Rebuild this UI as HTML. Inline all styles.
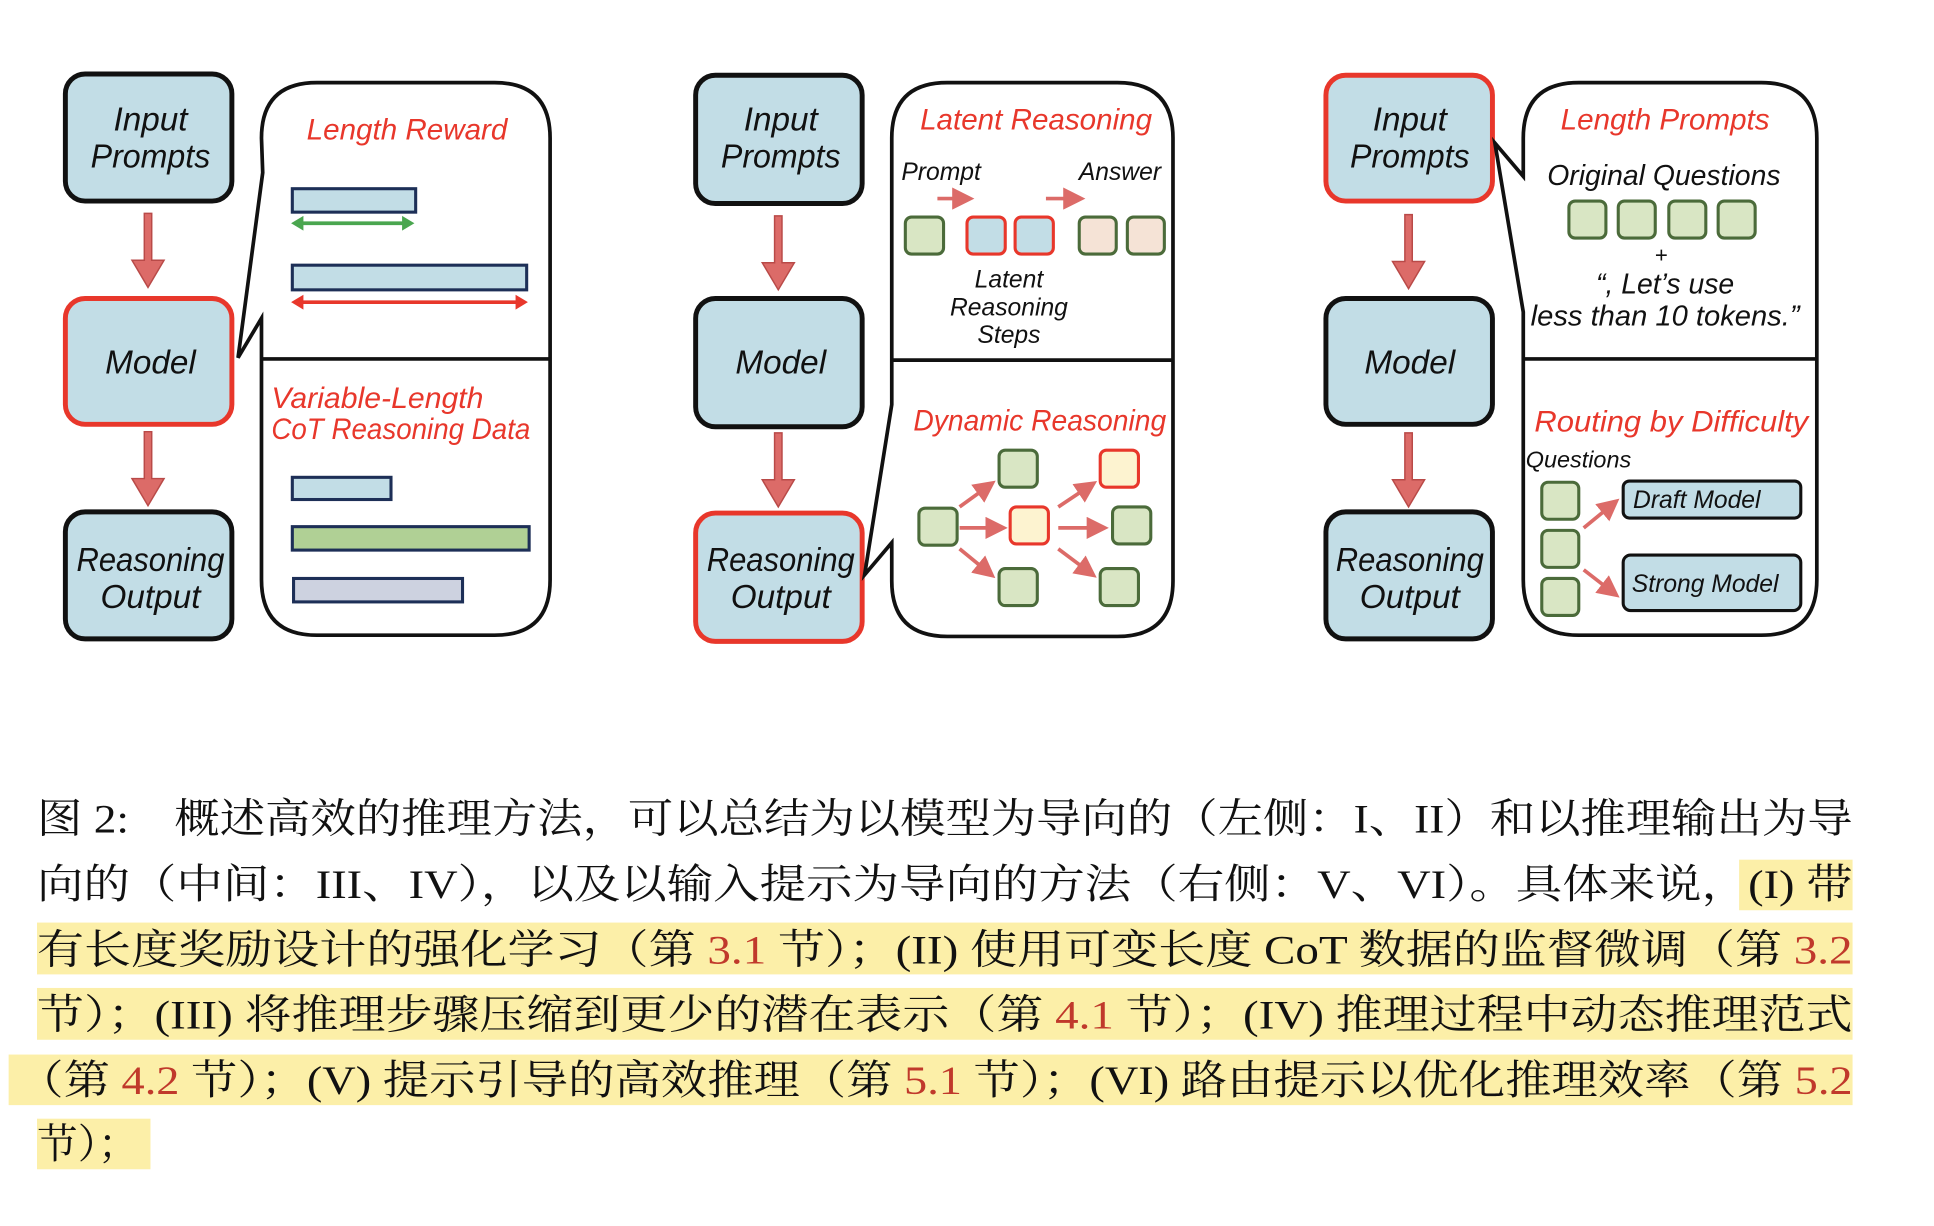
<!DOCTYPE html>
<html><head><meta charset="utf-8"><style>
html,body{margin:0;padding:0;background:#fff;}
svg{display:block;}
.d{font-family:"Liberation Sans",sans-serif;font-style:italic;}
.c{font-family:"Liberation Serif","Noto Serif CJK SC",serif;font-size:33px;fill:#111;}
</style></head><body>
<svg width="1934" height="1226" viewBox="0 0 1568 994" preserveAspectRatio="none" xmlns="http://www.w3.org/2000/svg">
<defs>
<g id="dar"><path d="M-3,0 L3,0 L3,38 L13,38 L0,60 L-13,38 L-3,38 Z" fill="#dc6b68" stroke="#b94a48" stroke-width="1.2"/></g>
<marker id="ah" markerWidth="6" markerHeight="6" refX="3" refY="3" orient="auto"><path d="M0,0 L6,3 L0,6 Z" fill="#dc6b68"/></marker>
</defs>
<g class="d" font-size="27" text-anchor="middle">
<g stroke-width="4">
<rect x="53" y="60" width="135" height="103" rx="16" fill="#c2dde6" stroke="#111"/>
<rect x="53" y="242" width="135" height="102" rx="16" fill="#c2dde6" stroke="#e8372b"/>
<rect x="53" y="415" width="135" height="103" rx="16" fill="#c2dde6" stroke="#111"/>
<rect x="564" y="61" width="135" height="104" rx="16" fill="#c2dde6" stroke="#111"/>
<rect x="564" y="242" width="135" height="104" rx="16" fill="#c2dde6" stroke="#111"/>
<rect x="564" y="416" width="135" height="104" rx="16" fill="#c2dde6" stroke="#e8372b"/>
<rect x="1075" y="61" width="135" height="102" rx="16" fill="#c2dde6" stroke="#e8372b"/>
<rect x="1075" y="242" width="135" height="102" rx="16" fill="#c2dde6" stroke="#111"/>
<rect x="1075" y="415" width="135" height="103" rx="16" fill="#c2dde6" stroke="#111"/>
</g>
<g fill="#111">
<text x="122" y="106">Input</text><text x="122" y="136" textLength="97" lengthAdjust="spacingAndGlyphs">Prompts</text>
<text x="122" y="303">Model</text>
<text x="122" y="463" textLength="120" lengthAdjust="spacingAndGlyphs">Reasoning</text><text x="122" y="493">Output</text>
<text x="633" y="106">Input</text><text x="633" y="136" textLength="97" lengthAdjust="spacingAndGlyphs">Prompts</text>
<text x="633" y="303">Model</text>
<text x="633" y="463" textLength="120" lengthAdjust="spacingAndGlyphs">Reasoning</text><text x="633" y="493">Output</text>
<text x="1143" y="106">Input</text><text x="1143" y="136" textLength="97" lengthAdjust="spacingAndGlyphs">Prompts</text>
<text x="1143" y="303">Model</text>
<text x="1143" y="463" textLength="120" lengthAdjust="spacingAndGlyphs">Reasoning</text><text x="1143" y="493">Output</text>
</g>
<use href="#dar" x="120" y="173"/><use href="#dar" x="120" y="350"/>
<use href="#dar" x="631" y="175"/><use href="#dar" x="631" y="351"/>
<use href="#dar" x="1142" y="174"/><use href="#dar" x="1142" y="351"/>

<g fill="#fff" stroke="#111" stroke-width="3">
<path d="M257,67 L401,67 Q446,67 446,112 L446,470 Q446,515 401,515 L257,515 Q212,515 212,470 L212,258 L193,290 L213,140 L212,112 Q212,67 257,67 Z"/>
<line x1="212" y1="291" x2="446" y2="291"/>
<path d="M768,67 L906,67 Q951,67 951,112 L951,471 Q951,516 906,516 L768,516 Q723,516 723,471 L723,440 L701,466 L723,328 L723,112 Q723,67 768,67 Z"/>
<line x1="723" y1="292" x2="951" y2="292"/>
<path d="M1280,67 L1428,67 Q1473,67 1473,112 L1473,470 Q1473,515 1428,515 L1280,515 Q1235,515 1235,470 L1235,253 L1212,116 L1235,143 L1235,112 Q1235,67 1280,67 Z"/>
<line x1="1235" y1="291" x2="1473" y2="291"/>
</g>

<text x="330" y="113" fill="#e8372b" font-size="24">Length Reward</text>
<g stroke="#1d2f57" stroke-width="2.5">
<rect x="237" y="153" width="100" height="19" fill="#c2dde6"/>
<rect x="237" y="215" width="190" height="20" fill="#c2dde6"/>
<rect x="237" y="387" width="80" height="18" fill="#c2dde6"/>
<rect x="237" y="427" width="192" height="19" fill="#b0d095"/>
<rect x="238" y="469" width="137" height="19" fill="#cdd2e0"/>
</g>
<g stroke-width="3">
<line x1="244" y1="181" x2="328" y2="181" stroke="#4aa64f"/>
<path d="M236,181 L246,175 L246,187Z M336,181 L326,175 L326,187Z" fill="#4aa64f"/>
<line x1="244" y1="245" x2="420" y2="245" stroke="#e8372b"/>
<path d="M236,245 L246,239 L246,251Z M428,245 L418,239 L418,251Z" fill="#e8372b"/>
</g>
<g fill="#e8372b" font-size="24" text-anchor="start">
<text x="220" y="331" textLength="172" lengthAdjust="spacingAndGlyphs">Variable-Length</text>
<text x="220" y="356" textLength="210" lengthAdjust="spacingAndGlyphs">CoT Reasoning Data</text>
</g>

<text x="840" y="105" fill="#e8372b" font-size="24">Latent Reasoning</text>
<g font-size="20" fill="#111">
<text x="763" y="146">Prompt</text><text x="908" y="146">Answer</text>
<text x="818" y="233">Latent</text><text x="818" y="256">Reasoning</text><text x="818" y="278">Steps</text>
</g>
<g stroke="#dc6b68" stroke-width="3" marker-end="url(#ah)">
<line x1="760" y1="161" x2="781" y2="161"/><line x1="848" y1="161" x2="871" y2="161"/>
</g>
<g stroke-width="2.5">
<rect x="734" y="176" width="31" height="30" rx="5" fill="#d9e6c4" stroke="#4b6b3a"/>
<rect x="784" y="176" width="31" height="30" rx="5" fill="#c2dde6" stroke="#e8372b"/>
<rect x="823" y="176" width="31" height="30" rx="5" fill="#c2dde6" stroke="#e8372b"/>
<rect x="875" y="176" width="30" height="30" rx="5" fill="#f5e3d6" stroke="#4b6b3a"/>
<rect x="914" y="176" width="30" height="30" rx="5" fill="#f5e3d6" stroke="#4b6b3a"/>
</g>
<text x="843" y="349" fill="#e8372b" font-size="24" textLength="205" lengthAdjust="spacingAndGlyphs">Dynamic Reasoning</text>
<g stroke-width="2.5">
<rect x="745" y="412" width="31" height="30" rx="5" fill="#d9e6c4" stroke="#4b6b3a"/>
<rect x="810" y="365" width="31" height="30" rx="5" fill="#d9e6c4" stroke="#4b6b3a"/>
<rect x="819" y="411" width="31" height="30" rx="5" fill="#fdf3d0" stroke="#e8372b"/>
<rect x="810" y="461" width="31" height="30" rx="5" fill="#d9e6c4" stroke="#4b6b3a"/>
<rect x="892" y="365" width="31" height="30" rx="5" fill="#fdf3d0" stroke="#e8372b"/>
<rect x="902" y="411" width="31" height="30" rx="5" fill="#d9e6c4" stroke="#4b6b3a"/>
<rect x="892" y="461" width="31" height="30" rx="5" fill="#d9e6c4" stroke="#4b6b3a"/>
</g>
<g stroke="#dc6b68" stroke-width="3" marker-end="url(#ah)">
<line x1="778" y1="411" x2="800" y2="395"/><line x1="778" y1="428" x2="808" y2="428"/><line x1="778" y1="445" x2="800" y2="463"/>
<line x1="858" y1="411" x2="882" y2="395"/><line x1="858" y1="428" x2="890" y2="428"/><line x1="858" y1="445" x2="882" y2="463"/>
</g>

<text x="1350" y="105" fill="#e8372b" font-size="24">Length Prompts</text>
<g fill="#111" font-size="23">
<text x="1349" y="150">Original Questions</text>
<text x="1347" y="213" font-style="normal" font-size="18">+</text>
<text x="1350" y="238">“, Let’s use</text>
<text x="1350" y="264" textLength="218" lengthAdjust="spacingAndGlyphs">less than 10 tokens.”</text>
</g>
<g stroke-width="2.5" fill="#d9e6c4" stroke="#4b6b3a">
<rect x="1272" y="163" width="30" height="30" rx="5"/><rect x="1312" y="163" width="30" height="30" rx="5"/>
<rect x="1353" y="163" width="30" height="30" rx="5"/><rect x="1393" y="163" width="30" height="30" rx="5"/>
<rect x="1250" y="391" width="30" height="30" rx="5"/><rect x="1250" y="430" width="30" height="30" rx="5"/><rect x="1250" y="469" width="30" height="30" rx="5"/>
</g>
<text x="1355" y="350" fill="#e8372b" font-size="24" textLength="222" lengthAdjust="spacingAndGlyphs">Routing by Difficulty</text>
<text x="1237" y="379" fill="#111" font-size="19" text-anchor="start">Questions</text>
<g stroke="#111" stroke-width="2.5" fill="#c2dde6">
<rect x="1316" y="390" width="144" height="30" rx="5"/>
<rect x="1316" y="450" width="144" height="45" rx="6"/>
</g>
<g fill="#111" font-size="20" text-anchor="start">
<text x="1324" y="412">Draft  Model</text>
<text x="1323" y="480">Strong Model</text>
</g>
<g stroke="#dc6b68" stroke-width="3" marker-end="url(#ah)">
<line x1="1284" y1="428" x2="1306" y2="410"/><line x1="1284" y1="462" x2="1306" y2="479"/>
</g>
</g>

<g fill="#fcefa8">
<rect x="1410" y="697" width="92" height="41"/>
<rect x="30" y="748" width="1472" height="42"/>
<rect x="30" y="801" width="1472" height="42"/>
<rect x="7" y="855" width="1495" height="41"/>
<rect x="30" y="907" width="92" height="41"/>
</g>
<g class="c">
<text x="30" y="675" textLength="1472" lengthAdjust="spacingAndGlyphs">图 2:　概述高效的推理方法，可以总结为以模型为导向的（左侧：I、II）和以推理输出为导</text>
<text x="30" y="728" textLength="1472" lengthAdjust="spacingAndGlyphs">向的（中间：III、IV），以及以输入提示为导向的方法（右侧：V、VI）。具体来说，(I) 带</text>
<text x="30" y="781" textLength="1472" lengthAdjust="spacingAndGlyphs">有长度奖励设计的强化学习（第 <tspan fill="#c0392b">3.1</tspan> 节）；(II) 使用可变长度 CoT 数据的监督微调（第 <tspan fill="#c0392b">3.2</tspan></text>
<text x="30" y="834" textLength="1472" lengthAdjust="spacingAndGlyphs">节）；(III) 将推理步骤压缩到更少的潜在表示（第 <tspan fill="#c0392b">4.1</tspan> 节）；(IV) 推理过程中动态推理范式</text>
<text x="14" y="887" textLength="1488" lengthAdjust="spacingAndGlyphs">（第 <tspan fill="#c0392b">4.2</tspan> 节）；(V) 提示引导的高效推理（第 <tspan fill="#c0392b">5.1</tspan> 节）；(VI) 路由提示以优化推理效率（第 <tspan fill="#c0392b">5.2</tspan></text>
<text x="30" y="939">节）；</text>
</g>
</svg>
</body></html>
